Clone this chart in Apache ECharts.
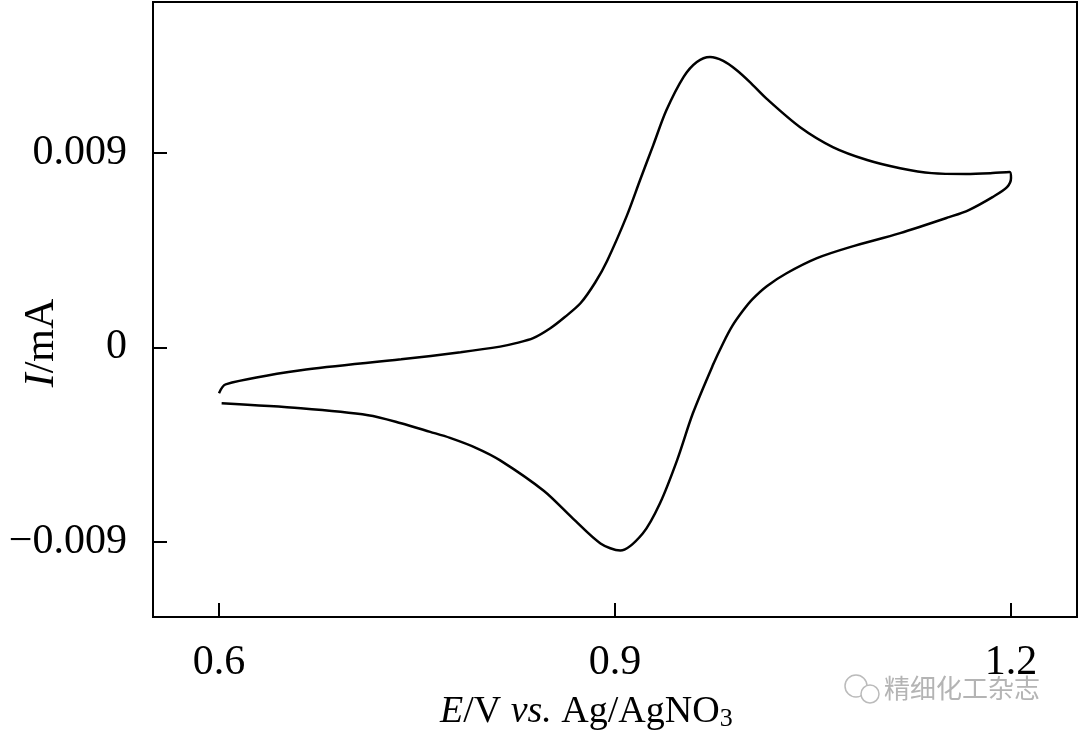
<!DOCTYPE html>
<html>
<head>
<meta charset="utf-8">
<script src="https://cdn.jsdelivr.net/npm/echarts@6/dist/echarts.min.js"></script>
<style>
  html, body { margin: 0; padding: 0; background: #fff; }
  #chart { width: 1080px; height: 739px; }
</style>
</head>
<body>
<div id="chart"></div>
<script>
// forward (anodic) sweep 0.6 -> 1.2 V, then reverse sweep back to 0.6 V
const forwardE = [0.600, 0.605, 0.662, 0.738, 0.783, 0.813, 0.825, 0.838, 0.851, 0.862, 0.874, 0.885, 0.894, 0.909, 0.919, 0.929, 0.939, 0.952, 0.962, 0.972, 0.982, 0.992, 1.002, 1.015, 1.040, 1.065, 1.091, 1.116, 1.140, 1.166, 1.186, 1.199, 1.200]
const forwardI = [-0.00213, -0.00172, -0.00107, -0.00056, -0.00023, 0.00003, 0.00019, 0.00042, 0.00088, 0.00140, 0.00205, 0.00300, 0.00400, 0.00610, 0.00775, 0.00937, 0.01099, 0.01253, 0.01322, 0.01345, 0.01327, 0.01285, 0.01230, 0.01151, 0.01021, 0.00928, 0.00868, 0.00830, 0.00807, 0.00803, 0.00807, 0.00812, 0.00784]
const reverseE = [1.197, 1.186, 1.168, 1.153, 1.116, 1.078, 1.053, 1.030, 1.015, 1.004, 0.997, 0.989, 0.982, 0.974, 0.959, 0.947, 0.934, 0.921, 0.904, 0.889, 0.868, 0.846, 0.813, 0.795, 0.775, 0.760, 0.738, 0.713, 0.662, 0.602]
const reverseI = [0.00742, 0.00696, 0.00636, 0.00603, 0.00529, 0.00464, 0.00413, 0.00343, 0.00283, 0.00222, 0.00170, 0.00100, 0.00020, -0.00085, -0.00306, -0.00524, -0.00724, -0.00863, -0.00942, -0.00909, -0.00793, -0.00665, -0.00524, -0.00467, -0.00420, -0.00392, -0.00352, -0.00315, -0.00283, -0.00260]

const xTicks = [0.6, 0.9, 1.2]
const yTicks = [-0.009, 0, 0.009]
const xTickLabels = ['0.6', '0.9', '1.2']
const yTickLabels = ['\u22120.009', '0', '0.009']

const SERIF = '"Liberation Serif", "Times New Roman", serif'

const loop = forwardE.map((e, i) => [e, forwardI[i]])
  .concat(reverseE.map((e, i) => [e, reverseI[i]]))

const chart = echarts.init(document.getElementById('chart'))

chart.setOption({
  animation: false,
  backgroundColor: '#fff',
  grid: {
    left: 153,
    right: 3,
    top: 2,
    bottom: 122,
    show: true,
    borderColor: '#000',
    borderWidth: 2
  },
  xAxis: {
    type: 'value',
    min: 0.55,
    max: 1.25,
    splitLine: { show: false },
    axisLine: { show: true, onZero: false, lineStyle: { color: '#000', width: 2 } },
    axisTick: {
      show: true,
      inside: true,
      length: 14,
      customValues: xTicks,
      lineStyle: { color: '#000', width: 2 }
    },
    axisLabel: {
      customValues: xTicks,
      margin: 25,
      color: '#000',
      fontFamily: SERIF,
      fontSize: 42,
      formatter: v => xTickLabels[xTicks.findIndex(t => Math.abs(t - v) < 1e-6)]
    }
  },
  yAxis: {
    type: 'value',
    min: -0.0125,
    max: 0.016,
    splitLine: { show: false },
    axisLine: { show: true, onZero: false, lineStyle: { color: '#000', width: 2 } },
    axisTick: {
      show: true,
      inside: true,
      length: 14,
      customValues: yTicks,
      lineStyle: { color: '#000', width: 2 }
    },
    axisLabel: {
      customValues: yTicks,
      margin: 26,
      color: '#000',
      fontFamily: SERIF,
      fontSize: 42,
      formatter: v => yTickLabels[yTicks.findIndex(t => Math.abs(t - v) < 1e-9)]
    }
  },
  graphic: [
    {
      type: 'text',
      left: 440,
      top: 693,
      style: {
        text: '{i|E}/V {i|vs.} Ag/AgNO{sub|3}',
        fill: '#000',
        font: '38px ' + SERIF,
        rich: {
          i: { fontStyle: 'italic', fontFamily: SERIF, fontSize: 38 },
          sub: { fontFamily: SERIF, fontSize: 26, verticalAlign: 'bottom', padding: [14, 0, 0, 0] }
        }
      }
    },
    {
      type: 'text',
      x: 42,
      y: 343,
      rotation: Math.PI / 2,
      style: {
        text: '{i|I}/mA',
        fill: '#000',
        align: 'center',
        verticalAlign: 'middle',
        font: '42px ' + SERIF,
        rich: {
          i: { fontStyle: 'italic', fontFamily: SERIF, fontSize: 42 }
        }
      }
    },
    {
      type: 'circle',
      shape: { cx: 856, cy: 686, r: 11 },
      style: { fill: 'none', stroke: '#bbb', lineWidth: 1.5 }
    },
    {
      type: 'circle',
      shape: { cx: 870, cy: 694, r: 9 },
      style: { fill: '#fff', stroke: '#bbb', lineWidth: 1.5 }
    },
    {
      type: 'text',
      left: 884,
      top: 675,
      style: {
        text: '精细化工杂志',
        fill: '#b4b4b4',
        font: '26px "Noto Sans CJK SC"'
      }
    }
  ],
  series: [
    {
      type: 'line',
      data: loop,
      showSymbol: false,
      smooth: 0.3,
      lineStyle: { color: '#000', width: 2.5 }
    }
  ]
})
</script>
</body>
</html>
